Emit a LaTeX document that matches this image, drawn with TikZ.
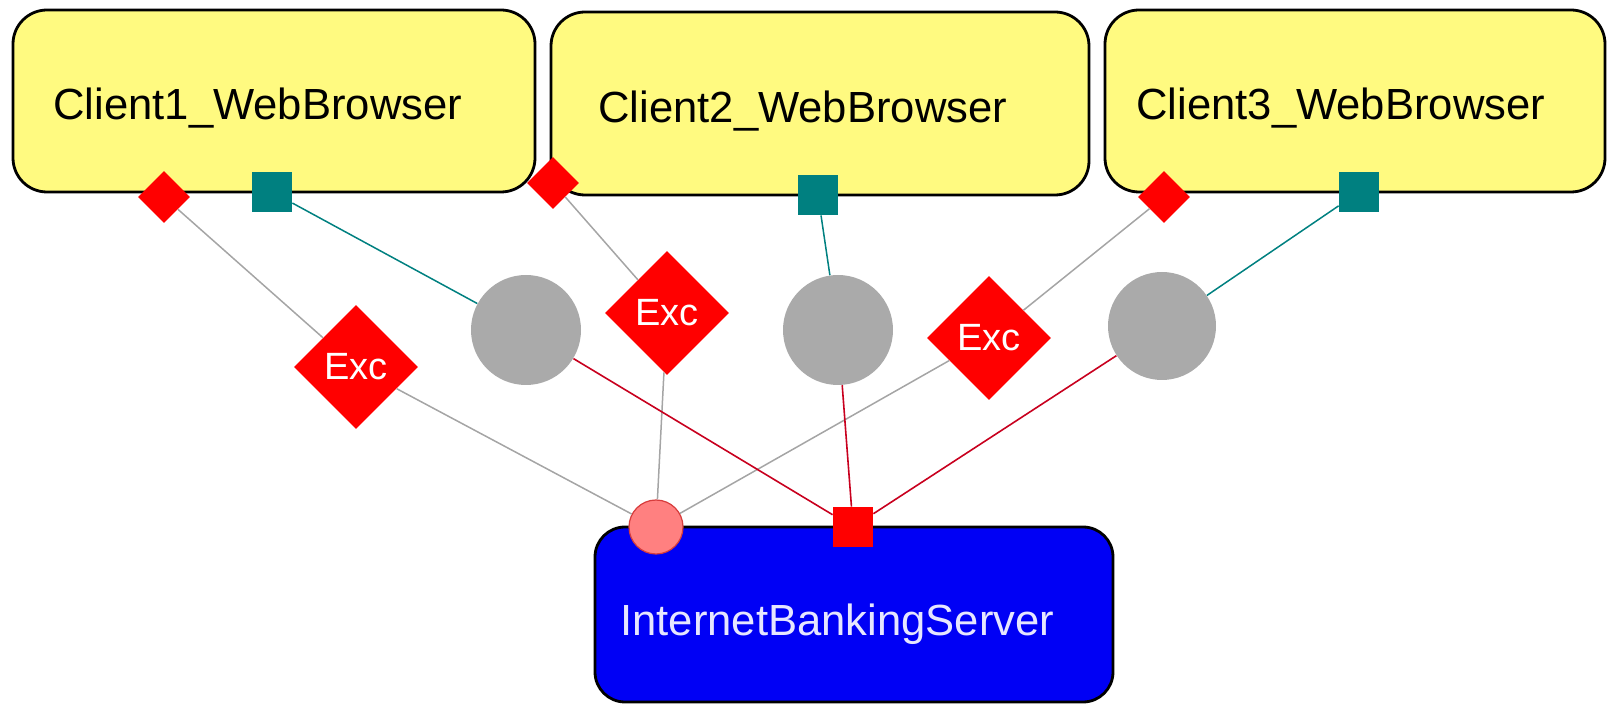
\documentclass[tikz,border=0pt]{standalone}
\usepackage{fontspec}
\setmainfont{Liberation Sans}
\usetikzlibrary{shapes.geometric}
\definecolor{clientyellow}{RGB}{255,250,128}
\definecolor{serverblue}{RGB}{0,0,245}
\definecolor{portteal}{RGB}{0,128,128}
\definecolor{hubgray}{RGB}{170,170,170}
\definecolor{pinkport}{RGB}{255,128,128}
\definecolor{pinkedge}{RGB}{215,60,60}
\definecolor{excred}{RGB}{255,0,0}
\definecolor{linegray}{RGB}{165,165,165}
\definecolor{linered}{RGB}{200,0,30}
\definecolor{servertext}{RGB}{230,230,255}
\tikzset{
  client/.style={draw=black, line width=1.4pt, fill=clientyellow, rounded corners=17pt, inner sep=0pt},
  server/.style={draw=black, line width=1.4pt, fill=serverblue, rounded corners=15pt, inner sep=0pt},
  boxtext/.style={anchor=base west, inner sep=0pt, font=\fontsize{21.8}{26}\selectfont},
  exc/.style={diamond, fill=excred, text=white, minimum width=62pt, minimum height=62pt, inner sep=0pt, font=\fontsize{19}{22}\selectfont},
  xport/.style={diamond, fill=excred, minimum width=26pt, minimum height=26pt, inner sep=0pt},
  sport/.style={rectangle, fill=portteal, minimum size=20pt, inner sep=0pt},
  rport/.style={rectangle, fill=excred, minimum size=20pt, inner sep=0pt},
  pport/.style={circle, fill=pinkport, draw=pinkedge, line width=0.6pt, minimum size=27pt, inner sep=0pt},
  hub/.style={circle, fill=hubgray, minimum size=55pt, inner sep=0pt},
  grayline/.style={draw=linegray, line width=0.75pt},
  tealline/.style={draw=portteal, line width=0.75pt},
  redline/.style={draw=linered, line width=0.8pt}
}
\begin{document}
\begin{tikzpicture}[x=0.5pt,y=-0.5pt]
\useasboundingbox (0,0) rectangle (1608,705);
% boxes
\node[client, minimum width=261pt, minimum height=91pt] (c1) at (274,101) {};
\node[client, minimum width=269pt, minimum height=91.5pt] (c2) at (820,103.5) {};
\node[client, minimum width=250pt, minimum height=91pt] (c3) at (1355,101) {};
\node[server, minimum width=259pt, minimum height=87.5pt] (srv) at (854,614.5) {};
% texts
\node[boxtext] (t1) at (53,120) {Client1\_WebBrowser};
\node[boxtext] (t2) at (598,123) {Client2\_WebBrowser};
\node[boxtext] (t3) at (1136,120) {Client3\_WebBrowser};
\node[boxtext, text=servertext] (ts) at (620,636) {InternetBankingServer};
% ports
\node[xport] (p1d) at (164,197) {};
\node[sport] (p1s) at (272,192) {};
\node[xport] (p2d) at (553,183) {};
\node[sport] (p2s) at (818,195) {};
\node[xport] (p3d) at (1164,197) {};
\node[sport] (p3s) at (1359,192) {};
\node[pport] (pk) at (656,527) {};
\node[rport] (rs) at (853,527) {};
% hubs
\node[hub] (g1) at (526,330) {};
\node[hub] (g2) at (838,330) {};
\node[hub, minimum size=54pt] (g3) at (1162,326) {};
% exceptions
\node[exc] (e1) at (356,367) {Exc};
\node[exc] (e2) at (667,313) {Exc};
\node[exc] (e3) at (989,338) {Exc};
% connectors
\draw[grayline] (p1d) -- (e1);
\draw[grayline] (e1) -- (pk);
\draw[grayline] (p2d) -- (e2);
\draw[grayline] (e2) -- (pk);
\draw[grayline] (p3d) -- (e3);
\draw[grayline] (e3) -- (pk);
\draw[tealline] (p1s) -- (g1);
\draw[tealline] (p2s) -- (g2);
\draw[tealline] (p3s) -- (g3);
\draw[redline] (g1) -- (rs);
\draw[redline] (g2) -- (rs);
\draw[redline] (g3) -- (rs);
\end{tikzpicture}
\end{document}
